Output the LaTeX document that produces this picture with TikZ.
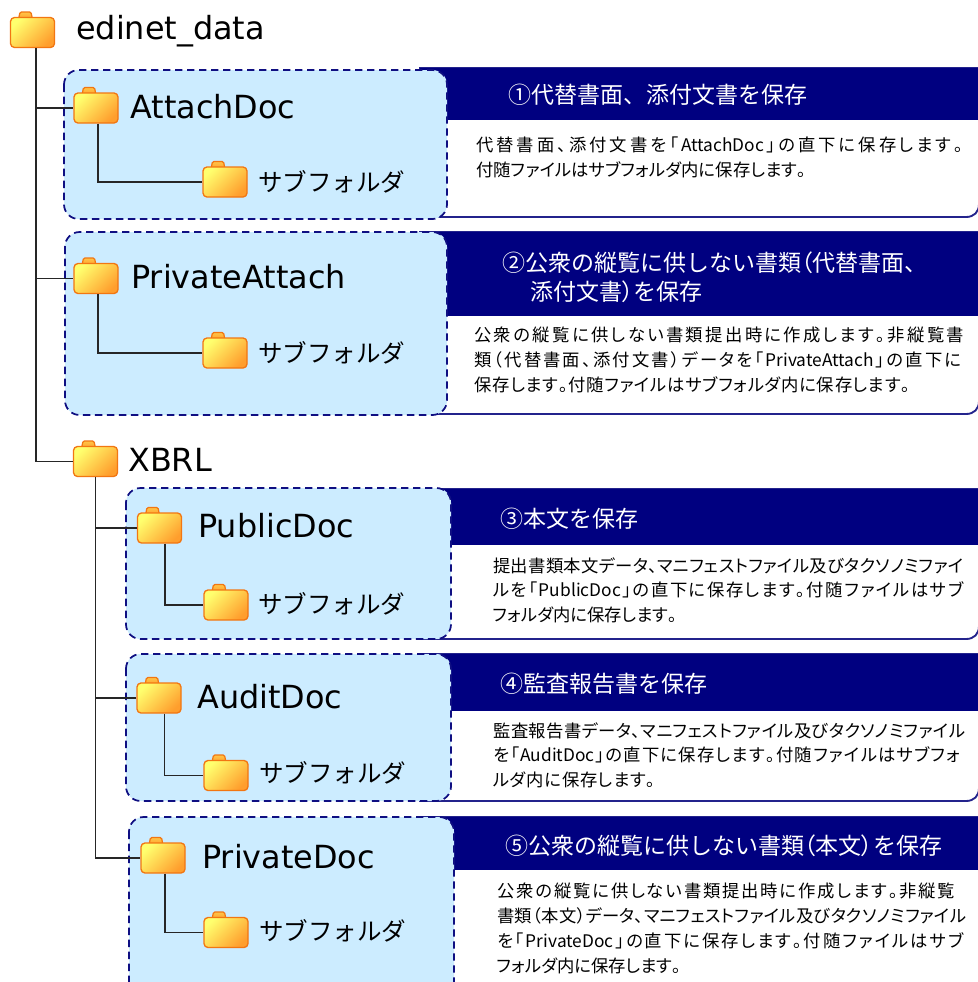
\documentclass[tikz,border=0pt]{standalone}
\usepackage{fontspec}
\setmainfont{DejaVu Sans}
\newfontfamily\jp{Noto Sans CJK JP}
\newfontfamily\jpp[RawFeature=+palt]{Noto Sans CJK JP}
\usetikzlibrary{calc}
\definecolor{fldedge}{RGB}{242,118,18}
\definecolor{fldlight}{RGB}{255,255,110}
\definecolor{flddark}{RGB}{255,158,45}
\definecolor{boxfill}{RGB}{204,236,255}
\definecolor{boxedge}{RGB}{15,15,130}
\definecolor{navyhead}{RGB}{0,0,128}
\definecolor{paneledge}{RGB}{35,35,140}
\tikzset{
  folder/.style={draw=fldedge, line width=1pt, rounded corners=3pt, minimum width=33pt, minimum height=22.5pt, inner sep=0pt, top color=fldlight, bottom color=flddark, shading angle=45},
  foldertab/.style={draw=fldedge, line width=0.9pt, top color=flddark!60!fldlight, bottom color=flddark, rounded corners=1pt},
  dirname/.style={anchor=base west, inner sep=0pt, font=\fontsize{23.9}{26}\selectfont},
  subname/.style={anchor=west, inner sep=0pt, font=\jp\fontsize{18.4}{22}\selectfont},
  tree/.style={line width=1pt, black!85},
  groupbox/.style={draw=boxedge, fill=boxfill, line width=1.3pt, dash pattern=on 5.5pt off 3.5pt, rounded corners=11pt},
  headtext/.style={anchor=west, inner sep=0pt, text=white, font=\jp\fontsize{17.25}{22}\selectfont, align=left},
  bodytext/.style={anchor=north west, inner sep=0pt, font=\jpp\fontsize{13}{18.6}\selectfont, align=left},
}
% spread the characters of one line evenly over a given width (in px)
\def\spreadstop{\spreadstop}
\def\spreadloop#1{\ifx\spreadstop#1\else\hskip0pt plus 1fil#1\expandafter\spreadloop\fi}
\def\spreadfirst#1{#1\spreadloop}
\newcommand\fitline[2]{\hbox to \dimexpr #1pt*3/4\relax{\spreadfirst#2\spreadstop}}
\newcommand\hp[1]{{\jpp #1}}
\newcommand\fold[3]{%
  \path[foldertab] (#2-14,#3-13) -- (#2-12.5,#3-20.5) -- (#2-1.5,#3-20.5) -- (#2,#3-13) -- cycle;
  \node[folder] (#1) at (#2,#3) {};
}
\newcommand\panel[3]{%
  \path[fill=white, draw=paneledge, line width=1.4pt] (420,#1) -- (979,#1) -- (979,#3-13) .. controls (979,#3-5) and (974,#3) .. (966,#3) -- (420,#3) -- cycle;
  \fill[navyhead] (420,#1) rectangle (979,#2);
}
\begin{document}
\begin{tikzpicture}[x=0.75pt,y=-0.75pt]
\useasboundingbox (0,0) rectangle (978,982);
\fill[white] (0,0) rectangle (978,982);
\clip (0,0) rectangle (978,982);

% right-hand panels
\panel{68}{120}{217}
\panel{232}{316}{414}
\panel{489}{545}{639}
\panel{654}{711}{801}
\panel{817}{870}{1010}

% group boxes
\path[groupbox] (64,70) rectangle (447,219);
\path[groupbox] (65,232) rectangle (447,415);
\path[groupbox] (126,488) rectangle (451,639);
\path[groupbox] (126,654) rectangle (451,801);
\path[groupbox] (129,817) rectangle (454,1010);

% folders
\fold{root}{32.5}{32.5}
\fold{attach}{96}{108}
\fold{suba}{225}{182}
\fold{pattach}{96}{278.5}
\fold{subb}{225}{353}
\fold{xbrl}{95.5}{461.5}
\fold{public}{159.5}{528}
\fold{subc}{226}{605}
\fold{audit}{159}{698}
\fold{subd}{226}{775.5}
\fold{pdoc}{163}{858}
\fold{sube}{226}{932.5}

% tree connectors
\draw[tree] ([xshift=2.6pt]root.south) |- (attach.west);
\draw[tree] ([xshift=2.6pt]root.south) |- (pattach.west);
\draw[tree] ([xshift=2.6pt]root.south) |- (xbrl.west);
\draw[tree] ([xshift=1.5pt]attach.south) |- (suba.west);
\draw[tree] ([xshift=1.5pt]pattach.south) |- (subb.west);
\draw[tree] (xbrl.south) |- (public.west);
\draw[tree] (xbrl.south) |- (audit.west);
\draw[tree] (xbrl.south) |- (pdoc.west);
\draw[tree] ([xshift=4pt]public.south) |- (subc.west);
\draw[tree] ([xshift=4pt]audit.south) |- (subd.west);
\draw[tree] ([xshift=1.5pt]pdoc.south) |- (sube.west);

% folder labels
\node[dirname] (rootlbl) at (76,39) {edinet\_data};
\node[dirname] (attachlbl) at (130,118) {AttachDoc};
\node[dirname] (pattachlbl) at (131,288) {PrivateAttach};
\node[dirname] (xbrllbl) at (128,471) {XBRL};
\node[dirname] (publiclbl) at (198,537) {PublicDoc};
\node[dirname] (auditlbl) at (197,708) {AuditDoc};
\node[dirname] (pdoclbl) at (202,868) {PrivateDoc};
\node[subname] (subalbl) at (258,182) {サブフォルダ};
\node[subname] (subblbl) at (258,353) {サブフォルダ};
\node[subname] (subclbl) at (258,604) {サブフォルダ};
\node[subname] (subdlbl) at (259,773) {サブフォルダ};
\node[subname] (subelbl) at (259,931) {サブフォルダ};

% panel headings
\node[headtext] (h1) at (508,95) {①代替書面、添付文書を保存};
\node[headtext] (h2a) at (502,263) {②公衆の縦覧に供しない書類\hp{（}代替書面、};
\node[headtext] (h2b) at (530,292) {添付文書\hp{）}を保存};
\node[headtext] (h3) at (500,519) {③本文を保存};
\node[headtext] (h4) at (500,684) {④監査報告書を保存};
\node[headtext] (h5) at (505,846) {⑤公衆の縦覧に供しない書類\hp{（}本文\hp{）}を保存};

% panel bodies
\node[bodytext] (t1) at (476,137) {\fitline{487}{代替書面、添付文書を「{AttachDoc}」の直下に保存します。}\\\fitline{330}{付随ファイルはサブフォルダ内に保存します。}};
\node[bodytext] (t2) at (474,327) {\fitline{490}{公衆の縦覧に供しない書類提出時に作成します。非縦覧書}\\\fitline{487}{類（代替書面、添付文書）データを「{PrivateAttach}」の直下に}\\\fitline{436}{保存します。付随ファイルはサブフォルダ内に保存します。}};
\node[bodytext] (t3) at (493,557) {\fitline{470}{提出書類本文データ、マニフェストファイル及びタクソノミファイ}\\\fitline{470}{ルを「{PublicDoc}」の直下に保存します。付随ファイルはサブ}\\\fitline{177}{フォルダ内に保存します。}};
\node[bodytext] (t4) at (493,722) {\fitline{472}{監査報告書データ、マニフェストファイル及びタクソノミファイル}\\\fitline{467}{を「{AuditDoc}」の直下に保存します。付随ファイルはサブフォ}\\\fitline{162}{ルダ内に保存します。}};
\node[bodytext] (t5) at (497,883) {\fitline{458}{公衆の縦覧に供しない書類提出時に作成します。非縦覧}\\\fitline{469}{書類（本文）データ、マニフェストファイル及びタクソノミファイル}\\\fitline{466}{を「{PrivateDoc}」の直下に保存します。付随ファイルはサブ}\\\fitline{176}{フォルダ内に保存します。}};
\end{tikzpicture}
\end{document}
